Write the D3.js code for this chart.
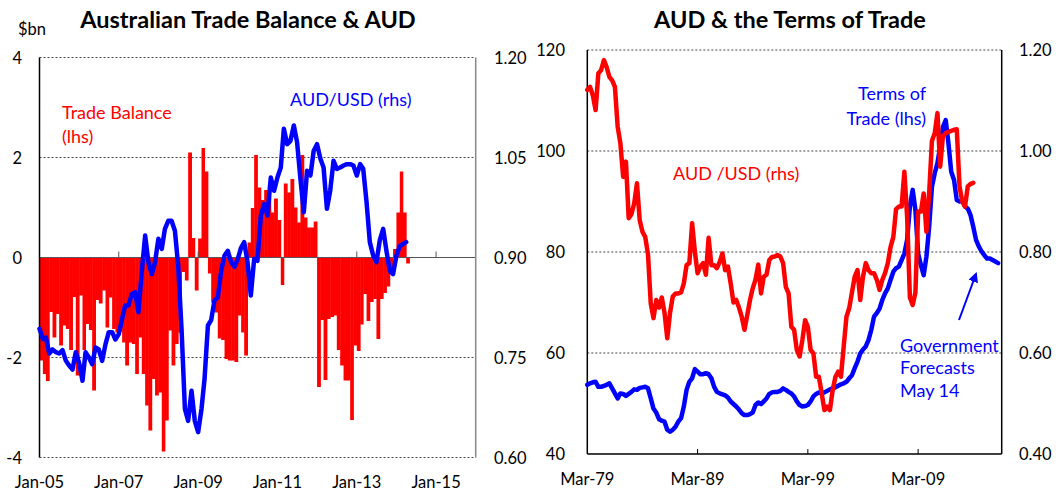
<!DOCTYPE html>
<html>
<head>
<meta charset="utf-8">
<script src="https://cdn.jsdelivr.net/npm/d3@7"></script>
<style>
  body { margin: 0; background: #fff; }
  svg { display: block; font-family: Lato, "Open Sans", sans-serif; }
</style>
</head>
<body>
<svg id="chart" width="1060" height="496"></svg>
<script>
// ----------- Left panel data: monthly, starting Jan-05 ------------
const tradeBalance = [
  -2.06, -2.33, -2.47, -1.09, -1.60, -1.13, -1.76, -1.36, -1.43, -1.85, -0.79, -2.36,
  -0.76, -1.85, -1.33, -1.45, -2.66, -0.85, -0.92, -0.66, -1.40, -0.80, -1.43, -1.50,
  -1.48, -1.70, -2.16, -1.70, -1.73, -2.33, -1.60, -2.33, -2.96, -3.46, -2.43, -2.76,
  -2.70, -3.88, -3.26, -1.46, -2.16, -1.73, -1.50, -0.29, -0.46, 2.10, 0.39, -0.66,
  0.38, 2.19, 1.72, -0.32, -0.90, -1.10, -1.62, -1.65, -2.03, -2.06, -2.06, -2.09,
  -1.16, -1.50, -1.96, 0.30, 0.99, 2.05, 1.40, 1.15, 1.35, 1.20, 0.90, 1.18,
  0.75, -0.55, 1.48, 1.30, 1.57, 1.00, 0.70, 2.05, 0.80, 0.60, 0.60, 0.72,
  -2.59, -1.25, -2.45, -1.23, -1.19, -1.16, -1.85, -2.16, -2.46, -2.46, -3.25, -1.76,
  -1.87, -1.34, -0.73, -1.27, -0.89, -0.83, -1.63, -0.83, -0.71, -0.58, -0.30, 0.17,
  0.90, 1.72, 0.90, -0.12
];
const audMonthly = [
  0.793, 0.778, 0.780, 0.756, 0.762, 0.758, 0.756, 0.761, 0.745, 0.738, 0.732, 0.758,
  0.742, 0.715, 0.758, 0.750, 0.740, 0.765, 0.762, 0.745, 0.770, 0.788, 0.788, 0.777,
  0.785, 0.808, 0.828, 0.828, 0.845, 0.848, 0.818, 0.879, 0.933, 0.893, 0.875, 0.893,
  0.928, 0.913, 0.943, 0.955, 0.955, 0.940, 0.888, 0.793, 0.673, 0.655, 0.700, 0.655,
  0.638, 0.673, 0.718, 0.798, 0.806, 0.836, 0.840, 0.880, 0.903, 0.910, 0.893, 0.886,
  0.898, 0.915, 0.923, 0.893, 0.843, 0.898, 0.895, 0.963, 0.980, 0.963, 1.020, 1.000,
  1.020, 1.035, 1.093, 1.070, 1.075, 1.098, 1.073, 1.018, 0.968, 1.030, 1.023, 1.060,
  1.070, 1.048, 1.035, 0.973, 1.000, 1.045, 1.033, 1.035, 1.038, 1.040, 1.040, 1.038,
  1.023, 1.040, 1.033, 0.983, 0.923, 0.903, 0.893, 0.926, 0.943, 0.910, 0.880, 0.875,
  0.903, 0.917, 0.920, 0.923
];
const leftTickYears = [2005, 2007, 2009, 2011, 2013, 2015];
const leftTicksL = [-4, -2, 0, 2, 4];
const leftTicksR = [0.60, 0.75, 0.90, 1.05, 1.20];

// ----------- Right panel data: quarterly, starting Mar-79 ------------
const audQuarterly = [
  1.121, 1.127, 1.110, 1.081, 1.154, 1.160, 1.180, 1.166, 1.147, 1.140,
  1.127, 1.048, 1.015, 0.949, 0.979, 0.867, 0.875, 0.896, 0.936, 0.863,
  0.840, 0.830, 0.795, 0.698, 0.669, 0.705, 0.690, 0.710, 0.680, 0.629,
  0.680, 0.712, 0.718, 0.718, 0.720, 0.738, 0.774, 0.778, 0.857, 0.800,
  0.758, 0.771, 0.778, 0.755, 0.828, 0.774, 0.774, 0.768, 0.780, 0.797,
  0.764, 0.771, 0.738, 0.700, 0.705, 0.690, 0.672, 0.646, 0.675, 0.705,
  0.728, 0.745, 0.775, 0.718, 0.751, 0.755, 0.784, 0.790, 0.791, 0.794,
  0.791, 0.778, 0.731, 0.718, 0.652, 0.646, 0.606, 0.593, 0.626, 0.665,
  0.652, 0.606, 0.599, 0.553, 0.553, 0.520, 0.487, 0.494, 0.487, 0.527,
  0.553, 0.563, 0.553, 0.613, 0.672, 0.689, 0.720, 0.751, 0.764, 0.705,
  0.751, 0.778, 0.764, 0.758, 0.758, 0.745, 0.725, 0.745, 0.758, 0.778,
  0.810, 0.830, 0.885, 0.890, 0.890, 0.959, 0.870, 0.710, 0.695, 0.720,
  0.880, 0.880, 0.916, 0.840, 0.916, 1.020, 1.035, 1.075, 0.969, 1.030,
  1.035, 1.038, 1.040, 1.042, 1.043, 0.930, 0.900, 0.890, 0.930, 0.935,
  0.937
];
const termsOfTrade = [
  53.7, 54.0, 54.2, 54.3, 53.3, 53.3, 53.5, 53.7, 54.0, 53.0,
  52.0, 51.0, 52.0, 51.9, 51.5, 51.9, 52.3, 52.8, 52.7, 53.1,
  53.2, 53.3, 53.0, 51.0, 49.0, 48.2, 46.9, 46.6, 46.4, 44.8,
  44.4, 44.8, 45.4, 46.4, 47.1, 49.4, 52.7, 54.3, 55.0, 56.8,
  56.3, 55.8, 55.8, 56.0, 55.8, 55.0, 53.3, 52.3, 52.0, 51.8,
  51.6, 51.2, 50.4, 49.9, 49.4, 48.8, 48.1, 47.7, 47.7, 47.9,
  48.2, 49.7, 50.2, 49.9, 50.4, 51.0, 51.9, 52.2, 52.3, 52.3,
  52.5, 53.0, 52.7, 52.3, 52.0, 51.4, 50.4, 49.7, 49.4, 49.5,
  49.7, 50.4, 51.4, 51.9, 52.2, 52.0, 52.2, 52.5, 52.8, 53.0,
  53.2, 53.5, 53.8, 54.0, 54.3, 55.0, 55.6, 57.0, 58.3, 59.9,
  60.7, 61.3, 62.6, 64.6, 67.2, 67.9, 68.8, 70.5, 71.8, 72.8,
  74.5, 76.1, 76.8, 77.1, 78.4, 79.7, 82.4, 89.0, 92.3, 88.3,
  79.7, 77.4, 75.4, 79.1, 85.0, 92.9, 95.6, 97.6, 100.9, 104.8,
  106.1, 101.5, 95.9, 94.3, 90.3, 90.0, 90.3, 89.0, 88.6, 87.3,
  85.0, 82.4, 81.1, 80.1, 79.4, 78.7, 78.7, 78.4, 78.1, 77.8
];
const rightTickYears = [1979, 1989, 1999, 2009];
const rightTicksL = [40, 60, 80, 100, 120];
const rightTicksR = [0.40, 0.60, 0.80, 1.00, 1.20];

const RED = "#ff0000", BLUE = "#0000ff";
const TICK_SIZE = 16.5, NOTE_SIZE = 18, TITLE_SIZE = 23.5;
const svg = d3.select("#chart");

// ----------- Helpers ------------
function dashed(g, x1, x2, y) {
  g.append("line").attr("x1", x1).attr("x2", x2).attr("y1", y).attr("y2", y)
    .attr("stroke", "#444").attr("stroke-width", 1).attr("stroke-dasharray", "2,2");
}
function solid(g, x1, y1, x2, y2, color, w) {
  g.append("line").attr("x1", x1).attr("y1", y1).attr("x2", x2).attr("y2", y2)
    .attr("stroke", color).attr("stroke-width", w);
}
function label(g, x, y, txt, anchor, color, size, weight) {
  return g.append("text").attr("x", x).attr("y", y).attr("text-anchor", anchor)
    .attr("fill", color || "#000").style("font-size", (size || TICK_SIZE) + "px")
    .style("font-weight", weight || "normal").text(txt);
}

// ----------- Left panel: trade balance bars + AUD line ------------
function drawLeft() {
  const g = svg.append("g");
  const months = tradeBalance.map((d, i) => new Date(2005, i, 1));
  const x = d3.scaleTime().domain([new Date(2005, 0, 1), new Date(2016, 0, 1)]).range([39.5, 475.7]);
  const y = d3.scaleLinear().domain([-4, 4]).range([457.5, 57.5]);
  const y2 = d3.scaleLinear().domain([0.6, 1.2]).range([457.5, 57.5]);

  // gridlines
  leftTicksL.filter(v => v !== 0).forEach(v => dashed(g, 39.5, 475.7, y(v)));

  // bars (slightly widened so neighbours touch)
  g.selectAll("rect.tb")
    .data(tradeBalance)
    .enter()
    .append("rect")
    .attr("class", "tb")
    .attr("x", (d, i) => x(months[i]))
    .attr("width", (d, i) => x(new Date(2005, i + 1, 1)) - x(months[i]) + 0.45)
    .attr("y", d => y(Math.max(0, d)))
    .attr("height", d => Math.abs(y(d) - y(0)))
    .attr("fill", RED);

  // zero axis with upward ticks
  solid(g, 39.5, y(0), 475.7, y(0), "#555", 1.2);
  leftTickYears.forEach(yr => {
    const tx = x(new Date(yr, 0, 1));
    if (yr > 2005) solid(g, tx, y(0), tx, y(0) - 6, "#555", 1);
  });

  // frame
  solid(g, 39.5, 57.5, 39.5, 457.5, "#000", 1.5);
  solid(g, 475.7, 57.5, 475.7, 457.5, "#888", 1.5);

  // AUD line
  const line = d3.line()
    .x((d, i) => x(new Date(2005, i, 1)))
    .y(d => y2(d));
  g.append("path").datum(audMonthly).attr("d", line)
    .attr("fill", "none").attr("stroke", BLUE).attr("stroke-width", 4.5)
    .attr("stroke-linejoin", "round").attr("stroke-linecap", "round");

  // axis labels
  leftTicksL.forEach(v => label(g, 22, y(v) + 6, v, "end"));
  leftTicksR.forEach(v => label(g, 494, y2(v) + 6, v.toFixed(2), "start"));
  leftTickYears.forEach(yr => label(g, x(new Date(yr, 0, 1)), 488, "Jan-" + String(yr).slice(2), "middle"));

  label(g, 18, 35, "$bn", "start");
  label(g, 248, 28, "Australian Trade Balance & AUD", "middle", "#000", TITLE_SIZE, "bold");
  label(g, 62, 119, "Trade Balance", "start", RED, NOTE_SIZE);
  label(g, 62, 143, "(lhs)", "start", RED, NOTE_SIZE);
  label(g, 290, 106, "AUD/USD (rhs)", "start", BLUE, NOTE_SIZE);
}

// ----------- Right panel: terms of trade + AUD ------------
function drawRight() {
  const g = svg.append("g");
  const qDate = i => new Date(1979, 2 + 3 * i, 1);
  const x = d3.scaleTime().domain([new Date(1979, 2, 1), new Date(2016, 8, 28)]).range([587.3, 1001.7]);
  const y = d3.scaleLinear().domain([40, 120]).range([454, 50]);
  const y2 = d3.scaleLinear().domain([0.4, 1.2]).range([454, 50]);

  rightTicksL.filter(v => v !== 40).forEach(v => dashed(g, 587.3, 1001.7, y(v)));

  solid(g, 587.3, 50, 587.3, 454, "#000", 1.5);
  solid(g, 1001.7, 50, 1001.7, 454, "#000", 1.5);
  solid(g, 587.3, 454, 1001.7, 454, "#000", 1.5);
  rightTickYears.forEach(yr => {
    const tx = x(new Date(yr, 2, 1));
    if (yr > 1979) solid(g, tx, 454, tx, 449, "#000", 1);
  });

  const totLine = d3.line().x((d, i) => x(qDate(i))).y(d => y(d));
  const audLine = d3.line().x((d, i) => x(qDate(i))).y(d => y2(d));

  g.append("path").datum(termsOfTrade).attr("d", totLine)
    .attr("fill", "none").attr("stroke", BLUE).attr("stroke-width", 4.5)
    .attr("stroke-linejoin", "round").attr("stroke-linecap", "round");
  g.append("path").datum(audQuarterly).attr("d", audLine)
    .attr("fill", "none").attr("stroke", RED).attr("stroke-width", 4.5)
    .attr("stroke-linejoin", "round").attr("stroke-linecap", "round");

  rightTicksL.forEach(v => label(g, 565, y(v) + 6, v, "end"));
  rightTicksR.forEach(v => label(g, 1019, y2(v) + 6, v.toFixed(2), "start"));
  rightTickYears.forEach(yr => label(g, x(new Date(yr, 2, 1)), 485, "Mar-" + String(yr).slice(2), "middle"));

  label(g, 790, 28, "AUD & the Terms of Trade", "middle", "#000", TITLE_SIZE, "bold");
  label(g, 673, 180, "AUD /USD (rhs)", "start", RED, NOTE_SIZE);
  label(g, 926, 100, "Terms of", "end", BLUE, NOTE_SIZE);
  label(g, 926, 125, "Trade (lhs)", "end", BLUE, NOTE_SIZE);
  label(g, 900, 352, "Government", "start", BLUE, NOTE_SIZE);
  label(g, 900, 374, "Forecasts", "start", BLUE, NOTE_SIZE);
  label(g, 900, 397, "May 14", "start", BLUE, NOTE_SIZE);

  // arrow pointing at the forecast tail
  svg.append("defs").append("marker")
    .attr("id", "arrowhead").attr("viewBox", "0 0 10 10")
    .attr("refX", 8).attr("refY", 5)
    .attr("markerWidth", 5).attr("markerHeight", 5)
    .attr("orient", "auto")
    .append("path").attr("d", "M0,0 L10,5 L0,10 z").attr("fill", BLUE);
  g.append("line").attr("x1", 959).attr("y1", 320).attr("x2", 976).attr("y2", 274)
    .attr("stroke", BLUE).attr("stroke-width", 2).attr("marker-end", "url(#arrowhead)");
}

drawLeft();
drawRight();
</script>
</body>
</html>
